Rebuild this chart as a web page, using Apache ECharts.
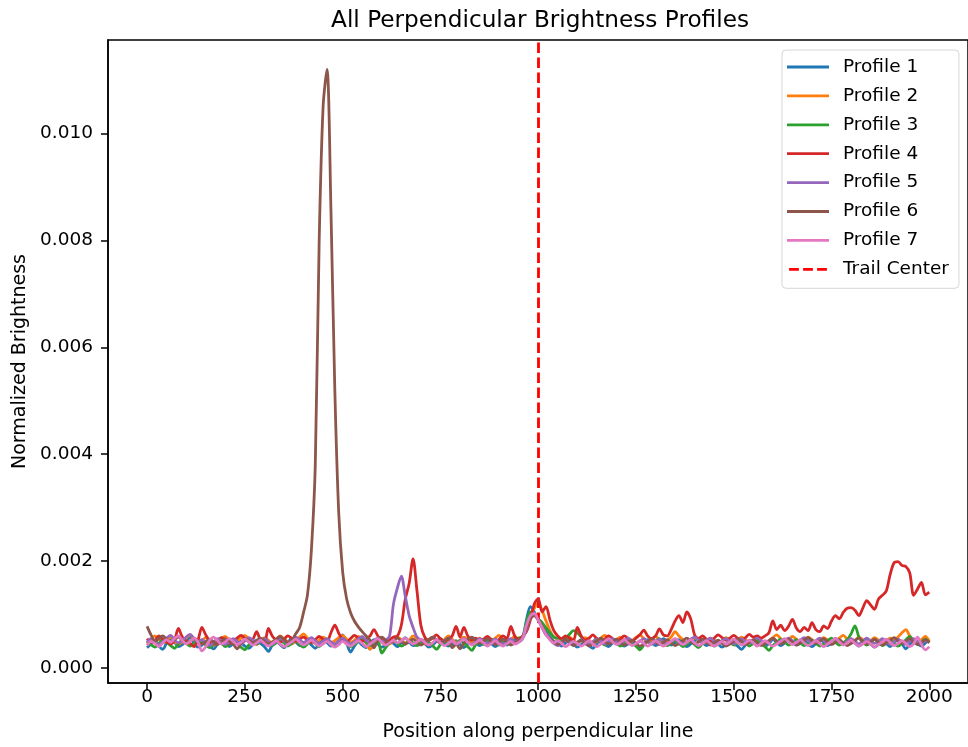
<!DOCTYPE html>
<html>
<head>
<meta charset="utf-8">
<script src="https://cdn.jsdelivr.net/npm/echarts@6/dist/echarts.min.js"></script>
<style>
html,body{margin:0;padding:0;background:#fff;}
#chart{width:968px;height:747px;}
</style>
</head>
<body>
<div id="chart"></div>
<script>
// Sample positions along the perpendicular line (every 10 units, 0..2000)
const SAMPLE_STEP = 10;
const SAMPLE_COUNT = 201;
const positions = Array.from({length: SAMPLE_COUNT}, (_, i) => i * SAMPLE_STEP);

const xTicks = [0, 250, 500, 750, 1000, 1250, 1500, 1750, 2000];
const yTicks = [0, 0.002, 0.004, 0.006, 0.008, 0.010];
const TRAIL_CENTER = 1000;

const seriesNames = ['Profile 1','Profile 2','Profile 3','Profile 4','Profile 5','Profile 6','Profile 7'];

const profile1 = [
0.00038,0.00045,0.00052,0.00041,0.00035,0.00047,0.00055,0.00049,0.00040,0.00044,
0.00051,0.00058,0.00046,0.00039,0.00043,0.00050,0.00042,0.00036,0.00045,0.00053,
0.00047,0.00040,0.00046,0.00055,0.00048,0.00041,0.00037,0.00044,0.00052,0.00046,
0.00040,0.00031,0.00043,0.00050,0.00044,0.00038,0.00047,0.00056,0.00049,0.00042,
0.00045,0.00051,0.00043,0.00037,0.00046,0.00054,0.00048,0.00041,0.00044,0.00050,
0.00062,0.00047,0.00030,0.00041,0.00049,0.00043,0.00038,0.00046,0.00053,0.00045,
0.00039,0.00044,0.00051,0.00046,0.00040,0.00048,0.00057,0.00049,0.00042,0.00045,
0.00052,0.00046,0.00039,0.00043,0.00050,0.00055,0.00047,0.00041,0.00045,0.00051,
0.00044,0.00038,0.00046,0.00053,0.00048,0.00042,0.00047,0.00054,0.00046,0.00040,
0.00045,0.00050,0.00043,0.00048,0.00055,0.00049,0.00055,0.00090,0.00115,0.00105,
0.00092,0.00080,0.00068,0.00058,0.00050,0.00046,0.00041,0.00047,0.00053,0.00045,
0.00039,0.00044,0.00050,0.00042,0.00037,0.00046,0.00052,0.00045,0.00040,0.00047,
0.00053,0.00046,0.00041,0.00045,0.00051,0.00044,0.00038,0.00046,0.00053,0.00047,
0.00042,0.00048,0.00055,0.00049,0.00043,0.00047,0.00053,0.00046,0.00040,0.00045,
0.00051,0.00056,0.00048,0.00042,0.00046,0.00052,0.00045,0.00039,0.00044,0.00050,
0.00046,0.00041,0.00035,0.00043,0.00050,0.00046,0.00052,0.00047,0.00041,0.00046,
0.00053,0.00048,0.00042,0.00047,0.00054,0.00049,0.00043,0.00046,0.00052,0.00045,
0.00040,0.00046,0.00053,0.00048,0.00042,0.00047,0.00055,0.00050,0.00044,0.00048,
0.00054,0.00047,0.00041,0.00046,0.00052,0.00045,0.00039,0.00044,0.00051,0.00046,
0.00040,0.00047,0.00053,0.00046,0.00036,0.00044,0.00050,0.00045,0.00041,0.00047,
0.00052];

const profile2 = [
0.00045,0.00052,0.00060,0.00054,0.00047,0.00051,0.00058,0.00050,0.00044,0.00049,
0.00056,0.00062,0.00053,0.00047,0.00051,0.00057,0.00049,0.00043,0.00048,0.00055,
0.00059,0.00052,0.00046,0.00050,0.00056,0.00061,0.00054,0.00048,0.00044,0.00050,
0.00057,0.00052,0.00047,0.00053,0.00060,0.00055,0.00049,0.00045,0.00051,0.00058,
0.00064,0.00056,0.00050,0.00046,0.00052,0.00058,0.00053,0.00047,0.00051,0.00057,
0.00061,0.00054,0.00048,0.00052,0.00059,0.00054,0.00047,0.00035,0.00044,0.00052,
0.00057,0.00050,0.00045,0.00051,0.00058,0.00053,0.00047,0.00052,0.00060,0.00055,
0.00049,0.00045,0.00051,0.00057,0.00052,0.00047,0.00053,0.00060,0.00054,0.00048,
0.00052,0.00058,0.00053,0.00047,0.00051,0.00056,0.00050,0.00045,0.00050,0.00056,
0.00061,0.00054,0.00049,0.00053,0.00059,0.00054,0.00056,0.00075,0.00098,0.00112,
0.00122,0.00108,0.00088,0.00070,0.00058,0.00054,0.00049,0.00053,0.00058,0.00052,
0.00047,0.00051,0.00057,0.00052,0.00046,0.00050,0.00056,0.00061,0.00055,0.00049,
0.00053,0.00058,0.00052,0.00047,0.00051,0.00057,0.00062,0.00055,0.00049,0.00053,
0.00059,0.00053,0.00048,0.00052,0.00058,0.00068,0.00060,0.00053,0.00048,0.00052,
0.00057,0.00051,0.00046,0.00050,0.00056,0.00052,0.00046,0.00051,0.00057,0.00053,
0.00047,0.00052,0.00058,0.00053,0.00047,0.00051,0.00057,0.00052,0.00046,0.00051,
0.00057,0.00062,0.00055,0.00049,0.00053,0.00059,0.00054,0.00048,0.00052,0.00058,
0.00053,0.00047,0.00051,0.00057,0.00052,0.00046,0.00050,0.00056,0.00061,0.00054,
0.00048,0.00052,0.00058,0.00053,0.00047,0.00051,0.00057,0.00052,0.00046,0.00050,
0.00056,0.00052,0.00058,0.00066,0.00072,0.00060,0.00052,0.00047,0.00053,0.00059,
0.00050];

const profile3 = [
0.00050,0.00044,0.00039,0.00046,0.00053,0.00048,0.00042,0.00037,0.00045,0.00052,
0.00047,0.00041,0.00046,0.00054,0.00049,0.00043,0.00038,0.00044,0.00051,0.00047,
0.00040,0.00045,0.00052,0.00046,0.00039,0.00034,0.00043,0.00050,0.00045,0.00049,
0.00055,0.00048,0.00042,0.00047,0.00053,0.00047,0.00041,0.00046,0.00052,0.00044,
0.00039,0.00045,0.00051,0.00046,0.00040,0.00047,0.00053,0.00048,0.00042,0.00046,
0.00052,0.00045,0.00040,0.00044,0.00050,0.00055,0.00048,0.00042,0.00046,0.00051,
0.00028,0.00038,0.00047,0.00052,0.00046,0.00041,0.00045,0.00051,0.00047,0.00042,
0.00046,0.00053,0.00048,0.00042,0.00035,0.00044,0.00050,0.00046,0.00040,0.00045,
0.00051,0.00046,0.00040,0.00033,0.00043,0.00049,0.00044,0.00048,0.00054,0.00048,
0.00043,0.00047,0.00052,0.00046,0.00050,0.00056,0.00058,0.00085,0.00105,0.00100,
0.00092,0.00085,0.00075,0.00066,0.00058,0.00055,0.00050,0.00056,0.00063,0.00070,
0.00066,0.00058,0.00050,0.00045,0.00049,0.00055,0.00049,0.00043,0.00047,0.00052,
0.00046,0.00041,0.00045,0.00051,0.00047,0.00041,0.00034,0.00043,0.00049,0.00045,
0.00050,0.00055,0.00048,0.00042,0.00046,0.00052,0.00046,0.00040,0.00045,0.00050,
0.00044,0.00038,0.00046,0.00052,0.00047,0.00041,0.00045,0.00051,0.00055,0.00049,
0.00043,0.00047,0.00053,0.00047,0.00041,0.00046,0.00052,0.00046,0.00040,0.00033,
0.00042,0.00048,0.00054,0.00049,0.00043,0.00047,0.00053,0.00048,0.00042,0.00046,
0.00052,0.00046,0.00041,0.00045,0.00051,0.00056,0.00049,0.00043,0.00047,0.00053,
0.00064,0.00079,0.00058,0.00048,0.00043,0.00047,0.00053,0.00047,0.00042,0.00046,
0.00052,0.00047,0.00041,0.00046,0.00053,0.00059,0.00051,0.00045,0.00049,0.00054,
0.00048];

const profile4 = [
0.00055,0.00048,0.00052,0.00060,0.00054,0.00049,0.00045,0.00052,0.00074,0.00058,
0.00050,0.00046,0.00040,0.00052,0.00076,0.00062,0.00050,0.00045,0.00051,0.00057,
0.00052,0.00046,0.00050,0.00056,0.00061,0.00055,0.00049,0.00053,0.00068,0.00052,
0.00047,0.00074,0.00060,0.00052,0.00048,0.00054,0.00060,0.00055,0.00050,0.00054,
0.00058,0.00052,0.00048,0.00053,0.00059,0.00054,0.00050,0.00066,0.00080,0.00065,
0.00053,0.00049,0.00055,0.00061,0.00056,0.00050,0.00054,0.00060,0.00072,0.00060,
0.00052,0.00048,0.00053,0.00058,0.00060,0.00080,0.00128,0.00158,0.00204,0.00145,
0.00080,0.00058,0.00052,0.00056,0.00062,0.00055,0.00050,0.00054,0.00060,0.00078,
0.00058,0.00076,0.00060,0.00052,0.00056,0.00050,0.00054,0.00059,0.00053,0.00049,
0.00054,0.00060,0.00055,0.00078,0.00060,0.00054,0.00060,0.00068,0.00090,0.00120,
0.00130,0.00105,0.00115,0.00090,0.00070,0.00060,0.00055,0.00060,0.00056,0.00051,
0.00076,0.00060,0.00052,0.00056,0.00062,0.00055,0.00050,0.00054,0.00060,0.00055,
0.00050,0.00054,0.00060,0.00055,0.00050,0.00056,0.00062,0.00071,0.00060,0.00055,
0.00060,0.00073,0.00062,0.00060,0.00072,0.00088,0.00098,0.00085,0.00105,0.00092,
0.00062,0.00055,0.00060,0.00054,0.00050,0.00056,0.00062,0.00057,0.00052,0.00056,
0.00061,0.00056,0.00052,0.00057,0.00063,0.00058,0.00060,0.00056,0.00060,0.00066,
0.00088,0.00072,0.00080,0.00070,0.00078,0.00091,0.00075,0.00068,0.00076,0.00070,
0.00085,0.00072,0.00068,0.00079,0.00074,0.00088,0.00098,0.00092,0.00104,0.00112,
0.00113,0.00108,0.00098,0.00112,0.00126,0.00118,0.00110,0.00129,0.00136,0.00144,
0.00175,0.00197,0.00199,0.00192,0.00190,0.00178,0.00136,0.00148,0.00160,0.00137,
0.00142];

const profile5 = [
0.00048,0.00055,0.00050,0.00044,0.00049,0.00056,0.00061,0.00053,0.00047,0.00052,
0.00058,0.00063,0.00055,0.00049,0.00053,0.00047,0.00042,0.00048,0.00055,0.00050,
0.00044,0.00049,0.00055,0.00050,0.00045,0.00051,0.00057,0.00052,0.00046,0.00050,
0.00055,0.00049,0.00044,0.00050,0.00056,0.00051,0.00046,0.00052,0.00058,0.00053,
0.00048,0.00052,0.00057,0.00051,0.00046,0.00050,0.00055,0.00049,0.00045,0.00051,
0.00056,0.00050,0.00045,0.00049,0.00054,0.00059,0.00052,0.00047,0.00051,0.00056,
0.00050,0.00052,0.00060,0.00120,0.00150,0.00172,0.00135,0.00098,0.00076,0.00058,
0.00052,0.00048,0.00053,0.00058,0.00052,0.00047,0.00051,0.00056,0.00050,0.00045,
0.00050,0.00055,0.00049,0.00044,0.00049,0.00055,0.00051,0.00046,0.00050,0.00054,
0.00049,0.00045,0.00050,0.00055,0.00050,0.00052,0.00056,0.00072,0.00095,0.00100,
0.00090,0.00075,0.00062,0.00054,0.00046,0.00042,0.00047,0.00052,0.00047,0.00043,
0.00048,0.00053,0.00049,0.00044,0.00049,0.00054,0.00050,0.00045,0.00050,0.00055,
0.00050,0.00046,0.00051,0.00056,0.00051,0.00046,0.00050,0.00055,0.00050,0.00045,
0.00049,0.00054,0.00050,0.00045,0.00049,0.00054,0.00049,0.00044,0.00049,0.00054,
0.00058,0.00052,0.00047,0.00051,0.00056,0.00050,0.00046,0.00051,0.00055,0.00050,
0.00045,0.00050,0.00055,0.00050,0.00046,0.00051,0.00056,0.00051,0.00046,0.00050,
0.00055,0.00050,0.00046,0.00051,0.00056,0.00051,0.00047,0.00052,0.00057,0.00052,
0.00047,0.00051,0.00056,0.00051,0.00046,0.00050,0.00055,0.00050,0.00045,0.00050,
0.00055,0.00050,0.00045,0.00050,0.00056,0.00051,0.00046,0.00050,0.00055,0.00049,
0.00044,0.00049,0.00054,0.00049,0.00045,0.00050,0.00055,0.00050,0.00046,0.00051,
0.00048];

const profile6 = [
0.00078,0.00062,0.00050,0.00055,0.00060,0.00054,0.00049,0.00053,0.00058,0.00052,
0.00047,0.00051,0.00056,0.00050,0.00045,0.00049,0.00054,0.00049,0.00044,0.00050,
0.00055,0.00050,0.00045,0.00036,0.00046,0.00054,0.00052,0.00047,0.00051,0.00056,
0.00050,0.00045,0.00049,0.00054,0.00059,0.00053,0.00048,0.00052,0.00064,0.00076,
0.00104,0.00137,0.00220,0.00380,0.00800,0.01050,0.01120,0.00860,0.00520,0.00290,
0.00180,0.00130,0.00104,0.00088,0.00077,0.00068,0.00060,0.00052,0.00038,0.00053,
0.00058,0.00052,0.00047,0.00051,0.00056,0.00050,0.00045,0.00049,0.00054,0.00048,
0.00043,0.00048,0.00053,0.00058,0.00052,0.00047,0.00051,0.00056,0.00038,0.00045,
0.00036,0.00047,0.00053,0.00058,0.00052,0.00046,0.00050,0.00055,0.00049,0.00044,
0.00049,0.00054,0.00048,0.00043,0.00047,0.00052,0.00058,0.00075,0.00092,0.00098,
0.00090,0.00078,0.00064,0.00055,0.00049,0.00044,0.00048,0.00053,0.00047,0.00042,
0.00047,0.00052,0.00046,0.00041,0.00046,0.00051,0.00056,0.00050,0.00045,0.00049,
0.00054,0.00048,0.00043,0.00047,0.00052,0.00046,0.00041,0.00045,0.00050,0.00055,
0.00049,0.00044,0.00048,0.00053,0.00047,0.00042,0.00046,0.00051,0.00056,0.00050,
0.00045,0.00049,0.00054,0.00048,0.00043,0.00047,0.00052,0.00046,0.00041,0.00045,
0.00050,0.00055,0.00049,0.00044,0.00048,0.00053,0.00047,0.00042,0.00046,0.00051,
0.00056,0.00050,0.00045,0.00049,0.00054,0.00048,0.00043,0.00047,0.00052,0.00057,
0.00051,0.00046,0.00050,0.00055,0.00049,0.00044,0.00048,0.00053,0.00047,0.00042,
0.00046,0.00051,0.00056,0.00050,0.00045,0.00049,0.00054,0.00048,0.00043,0.00047,
0.00052,0.00057,0.00051,0.00046,0.00050,0.00055,0.00049,0.00044,0.00048,0.00053,
0.00047];

const profile7 = [
0.00042,0.00050,0.00046,0.00040,0.00047,0.00053,0.00048,0.00055,0.00060,0.00052,
0.00045,0.00050,0.00056,0.00049,0.00032,0.00040,0.00052,0.00058,0.00051,0.00045,
0.00049,0.00055,0.00050,0.00044,0.00048,0.00054,0.00049,0.00043,0.00047,0.00052,
0.00046,0.00041,0.00046,0.00051,0.00045,0.00040,0.00044,0.00049,0.00054,0.00048,
0.00043,0.00047,0.00052,0.00046,0.00041,0.00045,0.00050,0.00044,0.00039,0.00044,
0.00050,0.00045,0.00041,0.00046,0.00051,0.00046,0.00040,0.00045,0.00050,0.00055,
0.00048,0.00043,0.00047,0.00052,0.00047,0.00051,0.00056,0.00050,0.00045,0.00049,
0.00054,0.00048,0.00043,0.00047,0.00053,0.00047,0.00042,0.00046,0.00051,0.00045,
0.00049,0.00054,0.00048,0.00043,0.00047,0.00052,0.00047,0.00041,0.00046,0.00051,
0.00045,0.00041,0.00046,0.00050,0.00045,0.00048,0.00055,0.00080,0.00098,0.00102,
0.00090,0.00076,0.00063,0.00053,0.00047,0.00051,0.00046,0.00040,0.00045,0.00050,
0.00046,0.00041,0.00046,0.00051,0.00045,0.00040,0.00045,0.00050,0.00055,0.00049,
0.00044,0.00048,0.00053,0.00047,0.00042,0.00046,0.00051,0.00046,0.00041,0.00046,
0.00051,0.00046,0.00041,0.00045,0.00050,0.00055,0.00049,0.00044,0.00048,0.00053,
0.00047,0.00042,0.00046,0.00051,0.00046,0.00041,0.00045,0.00050,0.00045,0.00049,
0.00054,0.00048,0.00043,0.00047,0.00052,0.00047,0.00041,0.00046,0.00051,0.00046,
0.00041,0.00045,0.00050,0.00055,0.00049,0.00044,0.00048,0.00053,0.00047,0.00042,
0.00046,0.00051,0.00046,0.00040,0.00045,0.00050,0.00055,0.00049,0.00043,0.00047,
0.00052,0.00046,0.00041,0.00045,0.00050,0.00045,0.00039,0.00044,0.00049,0.00054,
0.00048,0.00042,0.00046,0.00051,0.00046,0.00040,0.00045,0.00058,0.00044,0.00034,
0.00040];

const profiles = [profile1, profile2, profile3, profile4, profile5, profile6, profile7];
const colors = ['#1f77b4','#ff7f0e','#2ca02c','#d62728','#9467bd','#8c564b','#e377c2'];

const FONT = "'DejaVu Sans', 'Liberation Sans', sans-serif";
const LW = 2.8;
const DASH = [10.5, 4.5];
const SOLID_ICON = 'rect';
const DASHED_ICON = 'path://M0,0h10.5v3h-10.5z M15,0h10.5v3h-10.5z M30,0h10.5v3h-10.5z';

const series = profiles.map((vals, k) => ({
  name: seriesNames[k],
  type: 'line',
  data: positions.map((x, i) => [x, vals[i]]),
  symbol: 'none',
  showSymbol: false,
  smooth: 0.3,
  lineStyle: {width: LW, color: colors[k]},
  itemStyle: {color: colors[k]},
  emphasis: {disabled: true},
  z: 2 + k
}));

series.push({
  name: 'Trail Center',
  type: 'line',
  data: [],
  symbol: 'none',
  lineStyle: {width: LW, color: '#ff0000', type: DASH},
  itemStyle: {color: '#ff0000'},
  z: 20,
  markLine: {
    silent: true,
    symbol: ['none', 'none'],
    label: {show: false},
    emphasis: {disabled: true},
    lineStyle: {width: LW, color: '#ff0000', type: DASH},
    data: [{xAxis: TRAIL_CENTER}]
  }
});

const legendData = seriesNames.map(n => ({name: n, icon: SOLID_ICON}))
  .concat([{name: 'Trail Center', icon: DASHED_ICON}]);

const chart = echarts.init(document.getElementById('chart'), null, {renderer: 'canvas'});
chart.setOption({
  animation: false,
  backgroundColor: '#ffffff',
  textStyle: {fontFamily: FONT, color: '#000'},
  title: {
    text: 'All Perpendicular Brightness Profiles',
    left: 540, top: 9, textAlign: 'center', padding: 0,
    textStyle: {fontSize: 23.2, fontWeight: 'normal', color: '#000', fontFamily: FONT}
  },
  grid: {
    left: 108, top: 40, width: 864, height: 644,
    show: true, borderColor: '#000', borderWidth: 1.5, backgroundColor: 'transparent'
  },
  legend: {
    orient: 'vertical',
    left: 782, top: 50,
    padding: [7.5, 10, 9.5, 5],
    itemWidth: 42, itemHeight: 2.8, itemGap: 9.9,
    backgroundColor: 'rgba(255,255,255,0.8)',
    borderColor: '#d6d6d6', borderWidth: 1, borderRadius: 4,
    selectedMode: false,
    itemStyle: {borderWidth: 0},
    data: legendData,
    textStyle: {fontSize: 18.5, lineHeight: 19, color: '#000', fontFamily: FONT, padding: [0, 0, 0, 9]}
  },
  xAxis: {
    type: 'value', min: -100, max: 2099,
    name: 'Position along perpendicular line',
    nameLocation: 'middle', nameGap: 40,
    nameTextStyle: {fontSize: 19, color: '#000', fontFamily: FONT},
    axisLine: {show: true, onZero: false, lineStyle: {color: '#000', width: 1.5}},
    axisTick: {show: true, length: 7, customValues: xTicks, lineStyle: {color: '#000', width: 1.5}},
    axisLabel: {customValues: xTicks, margin: 5, fontSize: 18.5, color: '#000', fontFamily: FONT,
      formatter: v => String(v)},
    splitLine: {show: false}
  },
  yAxis: {
    type: 'value', min: -0.00028, max: 0.01175,
    name: 'Normalized Brightness',
    nameLocation: 'middle', nameGap: 78,
    nameTextStyle: {fontSize: 19, color: '#000', fontFamily: FONT},
    axisLine: {show: true, onZero: false, lineStyle: {color: '#000', width: 1.5}},
    axisTick: {show: true, length: 7, customValues: yTicks, lineStyle: {color: '#000', width: 1.5}},
    axisLabel: {customValues: yTicks, margin: 15, fontSize: 18.5, color: '#000', fontFamily: FONT,
      formatter: v => v.toFixed(3)},
    splitLine: {show: false}
  },
  series: series
});
</script>
</body>
</html>
